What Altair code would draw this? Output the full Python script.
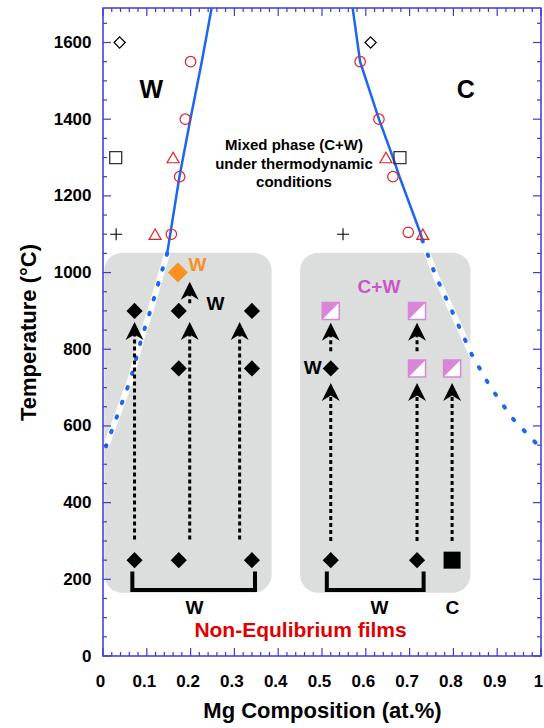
import altair as alt
import pandas as pd

# ---------------- data ----------------
# phase-boundary curves (x = Mg fraction, T = temperature)
left_solid_x = [0.248, 0.2255, 0.1995, 0.1745, 0.1535, 0.1465]
left_solid_T = [1690, 1550, 1400, 1250, 1100, 1050]
left_dot_x = [0.1465, 0.129, 0.108, 0.087, 0.063, 0.040, 0.007]
left_dot_T = [1050, 982, 900, 825, 721, 650, 547]
right_solid_x = [0.570, 0.587, 0.630, 0.662, 0.677, 0.7255, 0.729]
right_solid_T = [1690, 1550, 1400, 1300, 1250, 1100, 1085]
right_dot_x = [0.729, 0.760, 0.795, 0.8425, 0.883, 0.934, 0.997]
right_dot_T = [1085, 990, 904, 785, 704, 621, 545]
right_white_n = 4  # part of right dotted curve lying over the grey box

# literature points
open_diamond_x = [0.038, 0.611]
open_diamond_T = [1600, 1600]
circle_x = [0.200, 0.188, 0.175, 0.156, 0.587, 0.630, 0.662, 0.697]
circle_T = [1550, 1400, 1250, 1100, 1550, 1400, 1250, 1105]
triangle_x = [0.160, 0.119, 0.646, 0.730]
triangle_T = [1300, 1100, 1300, 1100]
open_square_x = [0.029, 0.678]
open_square_T = [1300, 1300]
plus_x = [0.030, 0.548]
plus_T = [1100, 1100]

# non-equilibrium films
box_x0 = [0.003, 0.450]
box_x1 = [0.385, 0.839]
box_T0 = [165, 165]
box_T1 = [1052, 1052]
black_diamond_x = [0.072, 0.173, 0.340, 0.173, 0.340, 0.072, 0.173, 0.340, 0.520, 0.520, 0.717]
black_diamond_T = [900, 900, 900, 750, 750, 250, 250, 250, 750, 250, 250]
orange_diamond_x = [0.171]
orange_diamond_T = [1000]
cw_square_x = [0.520, 0.717, 0.717, 0.797]
cw_square_T = [900, 900, 750, 750]
black_square_x = [0.797]
black_square_T = [250]

arrow_x = [0.072, 0.198, 0.312, 0.198, 0.520, 0.717, 0.797, 0.520, 0.717]
arrow_T0 = [304, 304, 304, 920, 300, 300, 300, 795, 795]
arrow_tip = [871, 871, 871, 976, 712, 712, 712, 869, 869]

bracket_x = [[0.067, 0.067, 0.347, 0.347], [0.511, 0.511, 0.732, 0.732]]
bracket_T = [[215, 172, 172, 215], [215, 172, 172, 215]]

# annotations
big_label = ["W", "C"]
big_label_x = [0.110, 0.828]
big_label_T = [1477, 1477]
mixed_lines = ["Mixed phase (C+W)", "under thermodynamic", "conditions"]
mixed_x = [0.436, 0.436, 0.436]
mixed_T = [1332, 1283, 1236]
w_labels = ["W", "W", "W", "W", "C"]
w_labels_x = [0.257, 0.479, 0.2087, 0.631, 0.7975]
w_labels_T = [917, 752, 126, 126, 126]
orange_label_x = [0.2155]
orange_label_T = [1021]
cw_label_x = [0.630]
cw_label_T = [963]
film_label_x = [0.451]
film_label_T = [65]

x_labels = [0, 0.1, 0.2, 0.3, 0.4, 0.5, 0.6, 0.7, 0.8, 0.9, 1]
y_labels = [0, 200, 400, 600, 800, 1000, 1200, 1400, 1600]
x_minor = [round(i * 0.02, 2) for i in range(51) if i % 5]
y_minor = [v for v in range(50, 1690, 50) if v % 200]

# ---------------- styling ----------------
FONT = "Liberation Sans"
AX = "#3b3bd8"
BLUE = "#1f66ee"
RED = "#e32222"
ORANGE = "#f8911e"
PINK = "#d985d8"
PURPLE = "#c855c9"
GREY = "#dcdddd"
W, H = 438, 648

XS = alt.Scale(domain=[0, 1], nice=False, zero=False)
YS = alt.Scale(domain=[0, 1690], nice=False, zero=False)

x_axis = alt.Axis(values=x_labels, format="~g", ticks=False, domain=False, grid=False,
                  labelFont=FONT, labelFontWeight="bold", labelFontSize=17, labelColor="black",
                  labelPadding=17, labelFlush=False, labelOverlap=False, labelOffset=-3,
                  title="Mg Composition (at.%)", titleFont=FONT, titleFontSize=22,
                  titleFontWeight="bold", titleColor="black", titlePadding=11)
y_axis = alt.Axis(values=y_labels, format="d", ticks=False, domain=False, grid=False,
                  labelFont=FONT, labelFontWeight="bold", labelFontSize=17, labelColor="black",
                  labelPadding=12, labelFlush=False, labelOverlap=False,
                  title="Temperature (°C)", titleFont=FONT, titleFontSize=22,
                  titleFontWeight="bold", titleColor="black", titlePadding=13)


def X(f="x"):
    return alt.X(f"{f}:Q", scale=XS, axis=x_axis, title="Mg Composition (at.%)")


def Y(f="T"):
    return alt.Y(f"{f}:Q", scale=YS, axis=y_axis, title="Temperature (°C)")


def pts(xs, ts, **extra):
    d = {"x": xs, "T": ts}
    d.update(extra)
    return pd.DataFrame(d)


def curve(xs, ts):
    return pd.DataFrame({"x": xs, "T": ts, "i": list(range(len(xs)))})


boxes = alt.Chart(pd.DataFrame({"x0": box_x0, "x1": box_x1, "T0": box_T0, "T1": box_T1})).mark_rect(
    color=GREY, cornerRadius=18).encode(
    x=X("x0"), x2="x1", y=Y("T0"), y2="T1")

white_under = (
    alt.Chart(curve(left_dot_x, left_dot_T)).mark_line(color="white", strokeWidth=6)
    .encode(x=X(), y=Y(), order="i:Q")
    + alt.Chart(curve(right_dot_x[:right_white_n], right_dot_T[:right_white_n]))
    .mark_line(color="white", strokeWidth=6).encode(x=X(), y=Y(), order="i:Q")
)
dotted = (
    alt.Chart(curve(left_dot_x, left_dot_T)).mark_line(color=BLUE, strokeWidth=4, strokeDash=[1.5, 14], strokeCap="round")
    .encode(x=X(), y=Y(), order="i:Q")
    + alt.Chart(curve(right_dot_x, right_dot_T)).mark_line(color=BLUE, strokeWidth=4, strokeDash=[1.5, 14], strokeCap="round")
    .encode(x=X(), y=Y(), order="i:Q")
)
solid = (
    alt.Chart(curve(left_solid_x, left_solid_T)).mark_line(color=BLUE, strokeWidth=2.5, clip=True)
    .encode(x=X(), y=Y(), order="i:Q")
    + alt.Chart(curve(right_solid_x, right_solid_T)).mark_line(color=BLUE, strokeWidth=2.5, clip=True)
    .encode(x=X(), y=Y(), order="i:Q")
)

arrow_lines = alt.Chart(pd.DataFrame({"x": arrow_x, "T0": arrow_T0, "T1": [t - 12 for t in arrow_tip]})).mark_rule(
    color="black", strokeWidth=3, strokeDash=[4, 3]).encode(x=X(), y=Y("T0"), y2="T1")
ARROW = "M0,0 L1,2 L0,1.4 L-1,2 Z"
arrow_heads = alt.Chart(pts(arrow_x, arrow_tip)).mark_point(
    shape=ARROW, filled=True, color="black", size=320, opacity=1).encode(x=X(), y=Y())

brackets = alt.Chart(pd.DataFrame({
    "x": bracket_x[0] + bracket_x[1],
    "T": bracket_T[0] + bracket_T[1],
    "g": [0] * 4 + [1] * 4,
    "i": list(range(4)) * 2,
})).mark_line(color="black", strokeWidth=4, strokeJoin="miter", strokeCap="square").encode(
    x=X(), y=Y(), detail="g:N", order="i:Q")

markers = (
    alt.Chart(pts(black_diamond_x, black_diamond_T)).mark_point(shape="diamond", filled=True, color="black", size=260, opacity=1).encode(x=X(), y=Y())
    + alt.Chart(pts(orange_diamond_x, orange_diamond_T)).mark_point(shape="diamond", filled=True, color=ORANGE, size=400, opacity=1).encode(x=X(), y=Y())
    + alt.Chart(pts(cw_square_x, cw_square_T)).mark_point(shape="square", filled=True, color="white", stroke=PINK, strokeWidth=1.5, size=289, opacity=1).encode(x=X(), y=Y())
    + alt.Chart(pts(cw_square_x, cw_square_T)).mark_point(shape="M-1,-1 L1,-1 L-1,1 Z", filled=True, color=PINK, size=289, opacity=1).encode(x=X(), y=Y())
    + alt.Chart(pts(black_square_x, black_square_T)).mark_point(shape="square", filled=True, color="black", size=289, opacity=1).encode(x=X(), y=Y())
    + alt.Chart(pts(open_diamond_x, open_diamond_T)).mark_point(shape="diamond", filled=False, color="black", strokeWidth=1.2, size=125, opacity=1).encode(x=X(), y=Y())
    + alt.Chart(pts(circle_x, circle_T)).mark_point(shape="circle", filled=False, color=RED, strokeWidth=1.2, size=110, opacity=1).encode(x=X(), y=Y())
    + alt.Chart(pts(triangle_x, triangle_T)).mark_point(shape="triangle-up", filled=False, color=RED, strokeWidth=1.2, size=145, opacity=1).encode(x=X(), y=Y())
    + alt.Chart(pts(open_square_x, open_square_T)).mark_point(shape="square", filled=False, color="#333333", strokeWidth=1.3, size=144, opacity=1).encode(x=X(), y=Y())
    + alt.Chart(pts(plus_x, plus_T)).mark_point(shape="M-1,0 L1,0 M0,-1 L0,1", filled=False, color="black", strokeWidth=1.1, size=144, opacity=1).encode(x=X(), y=Y())
)


def txt(xs, ts, labels, size, color):
    return alt.Chart(pts(xs, ts, label=labels)).mark_text(
        font=FONT, fontWeight="bold", fontSize=size, color=color, align="center", baseline="middle"
    ).encode(x=X(), y=Y(), text="label:N")


texts = (
    txt(big_label_x, big_label_T, big_label, 25, "black")
    + txt(mixed_x, mixed_T, mixed_lines, 15, "black")
    + txt(w_labels_x, w_labels_T, w_labels, 19, "black")
    + txt(orange_label_x, orange_label_T, ["W"], 19, ORANGE)
    + txt(cw_label_x, cw_label_T, ["C+W"], 19, PURPLE)
    + txt(film_label_x, film_label_T, ["Non-Equlibrium films"], 21, "#e00000")
)


def vt(vals):
    return pd.DataFrame({"v": vals})


def yticks(vals, L):
    return (alt.Chart(vt(vals)).mark_rule(color=AX, strokeWidth=1.2).encode(y=Y("v"), x=alt.value(0), x2=alt.value(L))
            + alt.Chart(vt(vals)).mark_rule(color=AX, strokeWidth=1.2).encode(y=Y("v"), x=alt.value(W - L), x2=alt.value(W)))


def xticks(vals, L):
    return (alt.Chart(vt(vals)).mark_rule(color=AX, strokeWidth=1.2).encode(x=X("v"), y=alt.value(H), y2=alt.value(H - L))
            + alt.Chart(vt(vals)).mark_rule(color=AX, strokeWidth=1.2).encode(x=X("v"), y=alt.value(0), y2=alt.value(L)))


ticks = yticks(y_labels, 8) + yticks(y_minor, 4) + xticks(x_labels, 8) + xticks(x_minor, 4)

chart = alt.layer(
    boxes, white_under, dotted, solid, arrow_lines, arrow_heads, brackets, markers, texts, ticks
).properties(
    width=W, height=H,
    padding={"left": 103, "top": 8, "right": 3, "bottom": 72},
    autosize=alt.AutoSizeParams(type="none"),
).configure_view(stroke=AX, strokeWidth=1.5)

chart.save("out.html", embed_options={"renderer": "svg", "actions": False})
